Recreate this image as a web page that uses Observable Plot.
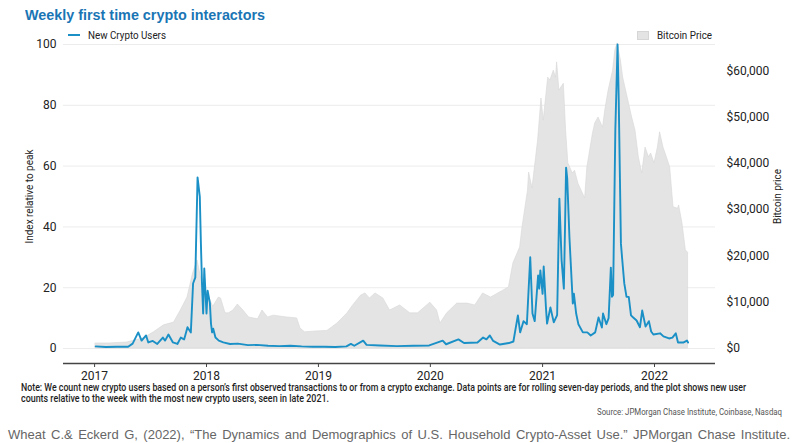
<!DOCTYPE html>
<html><head><meta charset="utf-8">
<script src="https://cdn.jsdelivr.net/npm/d3@7"></script>
<script src="https://cdn.jsdelivr.net/npm/@observablehq/plot@0.6"></script>
<style>
html,body{margin:0;padding:0;background:#fff;}
#wrap{position:relative;width:800px;height:443px;overflow:hidden;font-family:Roboto,sans-serif;}
#wrap svg{position:absolute;left:0;top:0;}
.t{position:absolute;white-space:nowrap;line-height:1;}
</style></head><body><div id="wrap"></div>
<script>
// ---- data (decimal year, value) ----
const userT = [2017.01,2017.10,2017.20,2017.30,2017.34,2017.39,2017.42,2017.46,2017.48,2017.52,2017.56,2017.61,2017.63,2017.66,2017.70,2017.74,2017.77,2017.80,2017.83,2017.86,2017.88,2017.90,2017.92,2017.94,2017.95,2017.96,2017.97,2017.98,2018.00,2018.01,2018.03,2018.04,2018.05,2018.06,2018.08,2018.11,2018.15,2018.21,2018.28,2018.37,2018.45,2018.55,2018.65,2018.75,2018.85,2018.95,2019.05,2019.15,2019.25,2019.29,2019.32,2019.40,2019.43,2019.55,2019.70,2019.85,2019.99,2020.11,2020.14,2020.25,2020.30,2020.42,2020.47,2020.50,2020.53,2020.56,2020.62,2020.70,2020.74,2020.78,2020.80,2020.83,2020.86,2020.89,2020.91,2020.93,2020.96,2020.97,2020.98,2021.00,2021.01,2021.03,2021.04,2021.07,2021.10,2021.13,2021.15,2021.17,2021.19,2021.20,2021.21,2021.22,2021.24,2021.27,2021.28,2021.30,2021.32,2021.36,2021.40,2021.43,2021.47,2021.50,2021.53,2021.54,2021.57,2021.59,2021.61,2021.62,2021.63,2021.65,2021.67,2021.68,2021.70,2021.71,2021.73,2021.75,2021.77,2021.79,2021.81,2021.84,2021.87,2021.89,2021.92,2021.95,2021.97,2021.99,2022.05,2022.08,2022.13,2022.16,2022.19,2022.21,2022.26,2022.29,2022.30];
const userV = [0.7,0.5,0.6,0.6,1.6,5.3,2.6,4.3,2.0,2.5,1.5,3.6,2.6,4.6,2.0,1.5,3.6,3.0,7.0,5.3,21.4,23.4,56.3,50.0,34.5,21.0,11.5,26.3,11.5,19.0,15.0,8.2,5.3,6.5,3.6,2.6,2.0,1.5,1.6,1.1,1.2,0.9,0.8,0.9,0.7,0.6,0.6,0.5,0.7,1.5,0.9,2.6,1.2,1.0,0.8,0.9,1.0,2.6,1.4,3.0,1.8,2.0,3.6,3.0,4.3,2.5,1.3,1.8,2.3,10.9,5.3,9.0,8.0,30.0,11.5,9.0,24.0,19.7,25.7,18.0,27.0,13.5,8.2,13.5,8.6,11.0,49.3,29.0,19.7,38.8,59.5,56.0,36.5,14.8,18.0,11.5,8.0,5.3,5.3,4.3,5.3,10.2,6.9,11.5,8.0,10.0,26.6,17.0,17.6,71.7,100,82.6,34.5,30.0,21.4,17.0,17.0,10.9,10.2,9.2,7.0,12.5,7.2,9.0,5.6,4.6,5.0,4.0,3.3,3.6,5.0,2.0,2.0,2.6,2.0];

const priceT = [2017.01,2017.14,2017.29,2017.44,2017.53,2017.62,2017.71,2017.77,2017.83,2017.88,2017.92,2017.97,2018.01,2018.06,2018.11,2018.13,2018.17,2018.20,2018.24,2018.28,2018.33,2018.38,2018.46,2018.50,2018.55,2018.60,2018.72,2018.81,2018.84,2018.88,2018.99,2019.08,2019.17,2019.26,2019.31,2019.38,2019.42,2019.46,2019.51,2019.58,2019.64,2019.73,2019.82,2019.89,2020.00,2020.06,2020.09,2020.15,2020.24,2020.33,2020.40,2020.47,2020.54,2020.65,2020.70,2020.74,2020.80,2020.82,2020.87,2020.88,2020.91,2020.96,2020.99,2021.01,2021.05,2021.07,2021.10,2021.12,2021.13,2021.15,2021.19,2021.21,2021.23,2021.27,2021.29,2021.32,2021.36,2021.38,2021.40,2021.45,2021.47,2021.50,2021.54,2021.56,2021.59,2021.63,2021.65,2021.67,2021.70,2021.72,2021.76,2021.80,2021.83,2021.86,2021.89,2021.92,2021.95,2021.97,2022.00,2022.03,2022.05,2022.08,2022.12,2022.14,2022.17,2022.21,2022.22,2022.25,2022.28,2022.30];
const priceV = [1080,1100,1300,2200,3500,5000,5600,8200,11000,16200,19000,13000,11900,9000,11000,10800,7600,7600,8200,9500,8200,6700,6300,8200,6700,7100,6700,6500,4300,3500,3700,3800,5400,7600,9300,11400,11900,10800,11900,10800,8200,9300,7600,7600,9900,8200,5400,7600,9700,9700,9300,11900,11000,12500,13200,18400,21800,26000,34100,38000,34600,44900,54000,49200,58500,57900,60000,58500,61800,55700,57200,47100,40000,37800,38400,35600,33500,32400,39100,46400,48600,49900,47700,51400,55700,60000,64400,65900,62200,58500,54200,49900,47100,41300,37800,43400,41300,42100,40000,43400,46700,43400,40600,39100,30500,30200,30900,27000,21200,20700];

const yearTicks = [2017, 2018, 2019, 2020, 2021, 2022];
const indexTicks = [0, 20, 40, 60, 80, 100];
const priceTicks = [0, 10000, 20000, 30000, 40000, 50000, 60000];

// ---- scale configuration ----
const PRICE_AT_100 = 65660;   // bitcoin price aligned with index 100
const Y_MIN = -4.93;          // axis baseline sits a little below zero
const X_START = 2016.723, X_END = 2022.545;

function toDate(t) {
  const y = Math.floor(t);
  const s = Date.UTC(y, 0, 1), e = Date.UTC(y + 1, 0, 1);
  return new Date(s + (t - y) * (e - s));
}
const users = userT.map((t, i) => ({date: toDate(t), v: userV[i]}));
const prices = priceT.map((t, i) => ({date: toDate(t), idx: priceV[i] / PRICE_AT_100 * 100}));

const chart = Plot.plot({
  width: 800, height: 443,
  marginLeft: 63, marginRight: 85, marginTop: 44, marginBottom: 80,
  style: {fontFamily: "Roboto, sans-serif", fontSize: "12px", color: "#333", background: "transparent"},
  x: {type: "utc", domain: [toDate(X_START), toDate(X_END)]},
  y: {domain: [Y_MIN, 100]},
  marks: [
    Plot.ruleY(indexTicks, {stroke: "#ececec", strokeWidth: 1}),
    Plot.areaY(prices, {x: "date", y: "idx", fill: "#e4e4e4", stroke: "#d6d6d6", strokeWidth: 0.6, curve: "linear"}),
    Plot.lineY(users, {x: "date", y: "v", stroke: "#1a90c6", strokeWidth: 1.9, curve: "linear"}),
    Plot.ruleY([Y_MIN], {stroke: "#444", strokeWidth: 1.3}),
    Plot.axisX({ticks: yearTicks.map(y => toDate(y)), tickFormat: d => String(d.getUTCFullYear()), tickSize: 4, tickPadding: 4, stroke: "#444", label: null, fill: "#222"}),
    Plot.axisY({anchor: "left", ticks: indexTicks, tickSize: 0, tickPadding: 7, label: null, fill: "#222"}),
    Plot.axisY({anchor: "right", ticks: priceTicks.map(p => p / PRICE_AT_100 * 100),
      tickFormat: v => "$" + d3.format(",")(Math.round(v * PRICE_AT_100 / 100 / 1000) * 1000),
      tickSize: 0, tickPadding: 11, label: null, fill: "#222"})
  ]
});
const wrap = document.getElementById("wrap");
wrap.appendChild(chart);

// ---- text overlays ----
function addText(txt, o) {
  const el = document.createElement("div");
  el.className = "t";
  el.textContent = txt;
  el.style.fontSize = (o.size || 11) + "px";
  el.style.fontWeight = o.weight || 400;
  el.style.color = o.color || "#222";
  el.style.fontFamily = o.family || "Roboto, sans-serif";
  wrap.appendChild(el);
  const r = el.getBoundingClientRect();
  const sx = o.width ? o.width / r.width : 1;
  if (o.rotate) {
    el.style.left = (o.cx - r.width / 2) + "px";
    el.style.top = (o.cy - r.height / 2) + "px";
    el.style.transformOrigin = "50% 50%";
    el.style.transform = `rotate(-90deg) scaleX(${sx})`;
  } else {
    el.style.left = o.x + "px";
    el.style.top = (o.cy - r.height / 2) + "px";
    el.style.transformOrigin = "0 50%";
    el.style.transform = `scaleX(${sx})`;
  }
  return el;
}
function addBox(x, y, w, h, bg, border) {
  const el = document.createElement("div");
  el.style.cssText = `position:absolute;left:${x}px;top:${y}px;width:${w}px;height:${h}px;background:${bg};${border ? "border:1px solid " + border + ";box-sizing:border-box;" : ""}`;
  wrap.appendChild(el);
}

addText("Weekly first time crypto interactors", {x: 25, cy: 14, size: 15, weight: 700, color: "#1a75b5", family: "'Liberation Sans', Arial, sans-serif", width: 240});
addBox(68, 34, 12, 2, "#1a90c6");
addText("New Crypto Users", {x: 88, cy: 35, size: 11, color: "#222", width: 78});
addBox(637, 31, 12, 9, "#e4e4e4", "#d6d6d6");
addText("Bitcoin Price", {x: 657, cy: 35, size: 11, color: "#222", width: 55});
addText("Index relative to peak", {rotate: true, cx: 30, cy: 196, size: 11, color: "#222", width: 94});
addText("Bitcoin price", {rotate: true, cx: 777, cy: 196, size: 11, color: "#222", width: 55});
addText("Note: We count new crypto users based on a person’s first observed transactions to or from a crypto exchange. Data points are for rolling seven-day periods, and the plot shows new user", {x: 21, cy: 388, size: 10, weight: 500, color: "#1e1e1e", width: 725});
addText("counts relative to the week with the most new crypto users, seen in late 2021.", {x: 21, cy: 399, size: 10, weight: 500, color: "#1e1e1e", width: 308});
addText("Source: JPMorgan Chase Institute, Coinbase, Nasdaq", {x: 597, cy: 412, size: 8.5, color: "#555", width: 185});

const cite = document.createElement("div");
cite.textContent = "Wheat C.& Eckerd G, (2022), “The Dynamics and Demographics of U.S. Household Crypto-Asset Use.” JPMorgan Chase Institute.";
cite.style.cssText = "position:absolute;left:8px;top:427px;width:782px;font-family:'Liberation Sans',Arial,sans-serif;font-size:13px;line-height:16px;color:#666;text-align:justify;text-align-last:justify;white-space:normal;";
wrap.appendChild(cite);
</script></body></html>
